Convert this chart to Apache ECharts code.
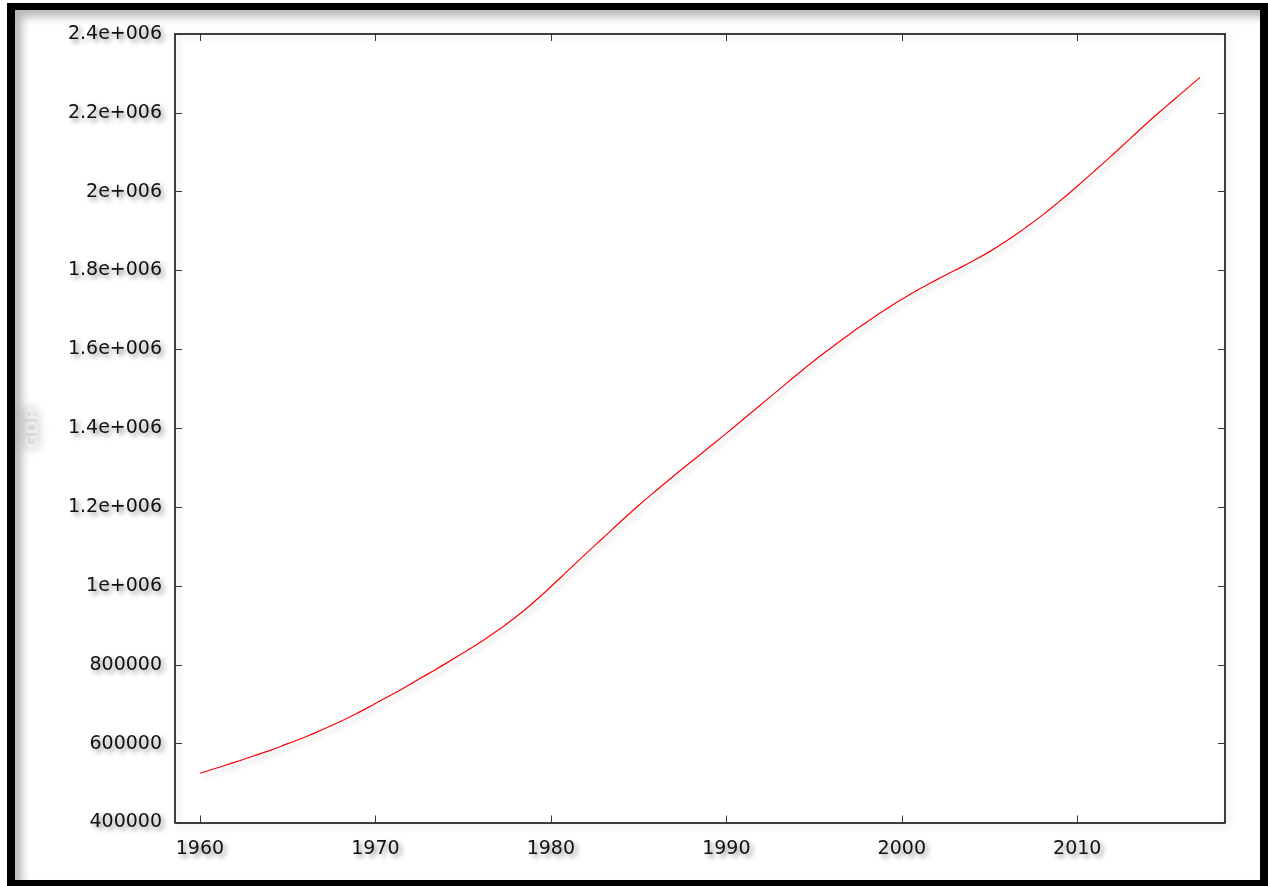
<!DOCTYPE html>
<html>
<head>
<meta charset="utf-8">
<script src="https://cdn.jsdelivr.net/npm/echarts@6/dist/echarts.min.js"></script>
<style>
  html, body { margin: 0; padding: 0; background: #fff; }
  #wrap { position: relative; width: 1268px; height: 886px; overflow: hidden; background: #fff; }
  #chart { position: absolute; left: 0; top: 0; width: 1268px; height: 886px; }
  #frame {
    position: absolute; left: 7px; top: 3px; right: 0; bottom: 0;
    border-left: 8px solid #000; border-top: 7px solid #000;
    border-right: 8px solid #000; border-bottom: 6px solid #000;
    box-shadow: inset 7px 7px 9px rgba(0,0,0,0.28);
    pointer-events: none;
  }
</style>
</head>
<body>
<div id="wrap">
  <div id="chart"></div>
  <div id="frame"></div>
</div>
<script>
// ---- data ----
const years = [
  1960,1961,1962,1963,1964,1965,1966,1967,1968,1969,
  1970,1971,1972,1973,1974,1975,1976,1977,1978,1979,
  1980,1981,1982,1983,1984,1985,1986,1987,1988,1989,
  1990,1991,1992,1993,1994,1995,1996,1997,1998,1999,
  2000,2001,2002,2003,2004,2005,2006,2007,2008,2009,
  2010,2011,2012,2013,2014,2015,2016,2017
];
const values = [
  525000,539000,553000,568000,583000,600000,617000,636000,656000,678000,
  702000,726000,751000,777000,803000,830000,858000,888000,921000,958000,
  998000,1040000,1082000,1123000,1164000,1204000,1242000,1279000,1315000,1351000,
  1387000,1424000,1461000,1498000,1535000,1571000,1605000,1638000,1669000,1699000,
  1727000,1753000,1777000,1800000,1823000,1848000,1876000,1907000,1940000,1976000,
  2014000,2053000,2093000,2134000,2175000,2214000,2252000,2290000
];
const xTicks = [1960, 1970, 1980, 1990, 2000, 2010];
const yTickValues = [400000,600000,800000,1000000,1200000,1400000,1600000,1800000,2000000,2200000,2400000];
const yTickLabels = ['400000','600000','800000','1e+006','1.2e+006','1.4e+006','1.6e+006','1.8e+006','2e+006','2.2e+006','2.4e+006'];
const yAxisName = 'GDP';

// ---- chart ----
const chart = echarts.init(document.getElementById('chart'), null, { renderer: 'canvas' });
const font = 'DejaVu Sans';
const labelStyle = {
  fontFamily: font, fontSize: 19, color: '#111',
  textShadowColor: 'rgba(0,0,0,0.45)', textShadowBlur: 5,
  textShadowOffsetX: 3, textShadowOffsetY: 3
};
const axisLineStyle = {
  color: '#000', width: 1.5,
  shadowColor: 'rgba(0,0,0,0.18)', shadowBlur: 6, shadowOffsetX: 3, shadowOffsetY: 3
};
const tickStyle = { color: '#333', width: 1 };
const data = years.map((y, i) => [y, values[i]]);
const xMin = 1958.58, xMax = 2018.42;

chart.setOption({
  animation: false,
  backgroundColor: 'transparent',
  grid: { left: 175, top: 34, right: 43, bottom: 63.5, containLabel: false },
  xAxis: [
    {
      type: 'value', min: xMin, max: xMax, position: 'bottom',
      axisLine: { show: true, lineStyle: axisLineStyle },
      axisTick: { show: true, inside: true, length: 7, lineStyle: tickStyle, customValues: xTicks },
      axisLabel: { show: true, margin: 17, customValues: xTicks, formatter: v => String(v), ...labelStyle },
      splitLine: { show: false }
    },
    {
      type: 'value', min: xMin, max: xMax, position: 'top',
      axisLine: { show: true, onZero: false, lineStyle: axisLineStyle },
      axisTick: { show: true, inside: true, length: 7, lineStyle: tickStyle, customValues: xTicks },
      axisLabel: { show: false },
      splitLine: { show: false }
    }
  ],
  yAxis: [
    {
      type: 'value', min: 400000, max: 2400000, interval: 200000, position: 'left',
      name: yAxisName, nameLocation: 'middle', nameGap: 133, nameRotate: 90,
      nameTextStyle: {
        fontFamily: font, fontSize: 17, fontWeight: 'bold', color: 'rgba(240,240,240,0.85)',
        textShadowColor: 'rgba(0,0,0,0.5)', textShadowBlur: 12,
        textShadowOffsetX: 0, textShadowOffsetY: 0
      },
      axisLine: { show: true, lineStyle: axisLineStyle },
      axisTick: { show: true, inside: true, length: 7, lineStyle: tickStyle },
      axisLabel: {
        show: true, margin: 13,
        formatter: v => { const i = yTickValues.indexOf(v); return i >= 0 ? yTickLabels[i] : ''; },
        ...labelStyle
      },
      splitLine: { show: false }
    },
    {
      type: 'value', min: 400000, max: 2400000, interval: 200000, position: 'right',
      axisLine: { show: true, onZero: false, lineStyle: axisLineStyle },
      axisTick: { show: true, inside: true, length: 7, lineStyle: tickStyle },
      axisLabel: { show: false },
      splitLine: { show: false }
    }
  ],
  series: [
    {
      type: 'line', xAxisIndex: 0, yAxisIndex: 0, data: data,
      smooth: 0.5, showSymbol: false, symbol: 'none',
      lineStyle: {
        color: '#ff0000', width: 1.2,
        shadowColor: 'rgba(0,0,0,0.22)', shadowBlur: 5, shadowOffsetX: 3, shadowOffsetY: 4
      },
      itemStyle: { color: '#ff0000' }
    }
  ]
});
</script>
</body>
</html>
